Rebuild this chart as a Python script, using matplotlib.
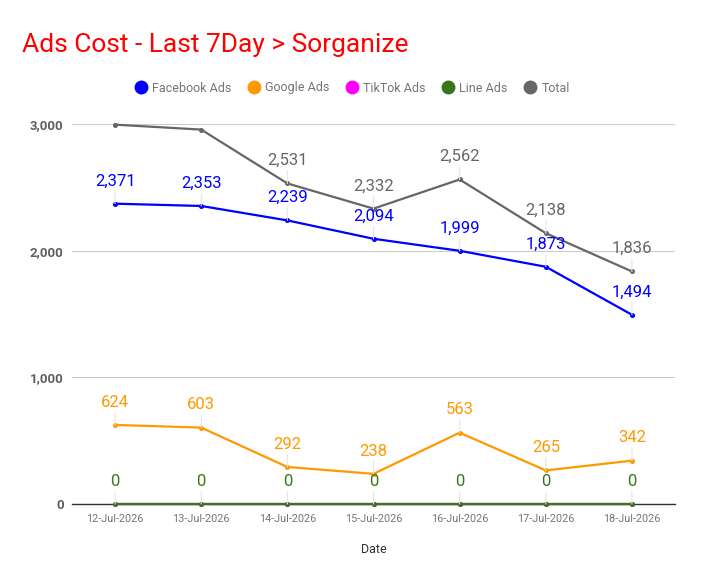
#!/usr/bin/env python3
"""Ads cost over the last 7 days, per channel plus total."""

import matplotlib
matplotlib.use("Agg")
import matplotlib.pyplot as plt
from matplotlib.lines import Line2D

plt.rcParams["font.family"] = ["Roboto", "DejaVu Sans"]

dates = ["12-Jul-2026", "13-Jul-2026", "14-Jul-2026", "15-Jul-2026",
         "16-Jul-2026", "17-Jul-2026", "18-Jul-2026"]
facebook = [2371, 2353, 2239, 2094, 1999, 1873, 1494]
google = [624, 603, 292, 238, 563, 265, 342]
tiktok = [0, 0, 0, 0, 0, 0, 0]
line_ads = [0, 0, 0, 0, 0, 0, 0]
total = [f + g + t + l for f, g, t, l in zip(facebook, google, tiktok, line_ads)]

series = [
    ("Facebook Ads", facebook, "#0000ff", True),
    ("Google Ads", google, "#ff9900", True),
    ("TikTok Ads", tiktok, "#ff00ff", False),
    ("Line Ads", line_ads, "#38761d", True),
    ("Total", total, "#666666", True),
]

fig = plt.figure(figsize=(7.04, 5.85), dpi=100)
ax = fig.add_axes([0.1023, 0.1385, 0.8565, 0.6495])

x = list(range(len(dates)))
for name, vals, color, labelled in series:
    ax.plot(x, vals, color=color, lw=1.6, marker="o", ms=2.6, zorder=3, clip_on=False)
    if not labelled:
        continue
    for xi, v in zip(x, vals):
        if v > 2900:
            continue  # label would fall outside the plot
        ax.annotate(f"{v:,}", xy=(xi, v), xytext=(0, 11), textcoords="offset points",
                    ha="center", va="bottom", fontsize=12, color=color, zorder=4,
                    arrowprops=dict(arrowstyle="-", color="#e6e6e6", lw=0.8,
                                    shrinkA=0, shrinkB=0))

ax.set_xlim(-0.5, len(dates) - 0.5)
ax.set_ylim(0, 3000)
ax.set_yticks([0, 1000, 2000, 3000])
ax.set_yticklabels([f"{v:,}" for v in [0, 1000, 2000, 3000]],
                   fontsize=9.5, fontweight="bold", color="#5f5f5f")
ax.set_xticks(x)
ax.set_xticklabels(dates, fontsize=7.8, color="#757575")
ax.tick_params(length=0, pad=6)
ax.tick_params(axis="x", pad=7)
ax.grid(axis="y", color="#cccccc", lw=0.8)
ax.set_axisbelow(True)
for s in ["top", "right", "left"]:
    ax.spines[s].set_visible(False)
ax.spines["bottom"].set_color("#333333")
ax.spines["bottom"].set_linewidth(1.0)
ax.spines["bottom"].set_zorder(1)
ax.set_xlabel("Date", fontsize=9, color="#333333", labelpad=14)

fig.text(22 / 704, 1 - 45 / 585, "Ads Cost - Last 7Day > Sorganize", fontsize=19,
         color="#ff0000", ha="left", va="center")

handles = [Line2D([], [], ls="none", marker="o", ms=9, color=c, label=n)
           for n, _, c, _ in series]
leg = fig.legend(handles=handles, loc="center", bbox_to_anchor=(0.5, 1 - 88 / 585),
                 ncol=5, frameon=False, fontsize=9, handletextpad=0.4,
                 columnspacing=1.3, handlelength=1.0)
for t in leg.get_texts():
    t.set_color("#757575")

fig.savefig("out.png", dpi=100)
